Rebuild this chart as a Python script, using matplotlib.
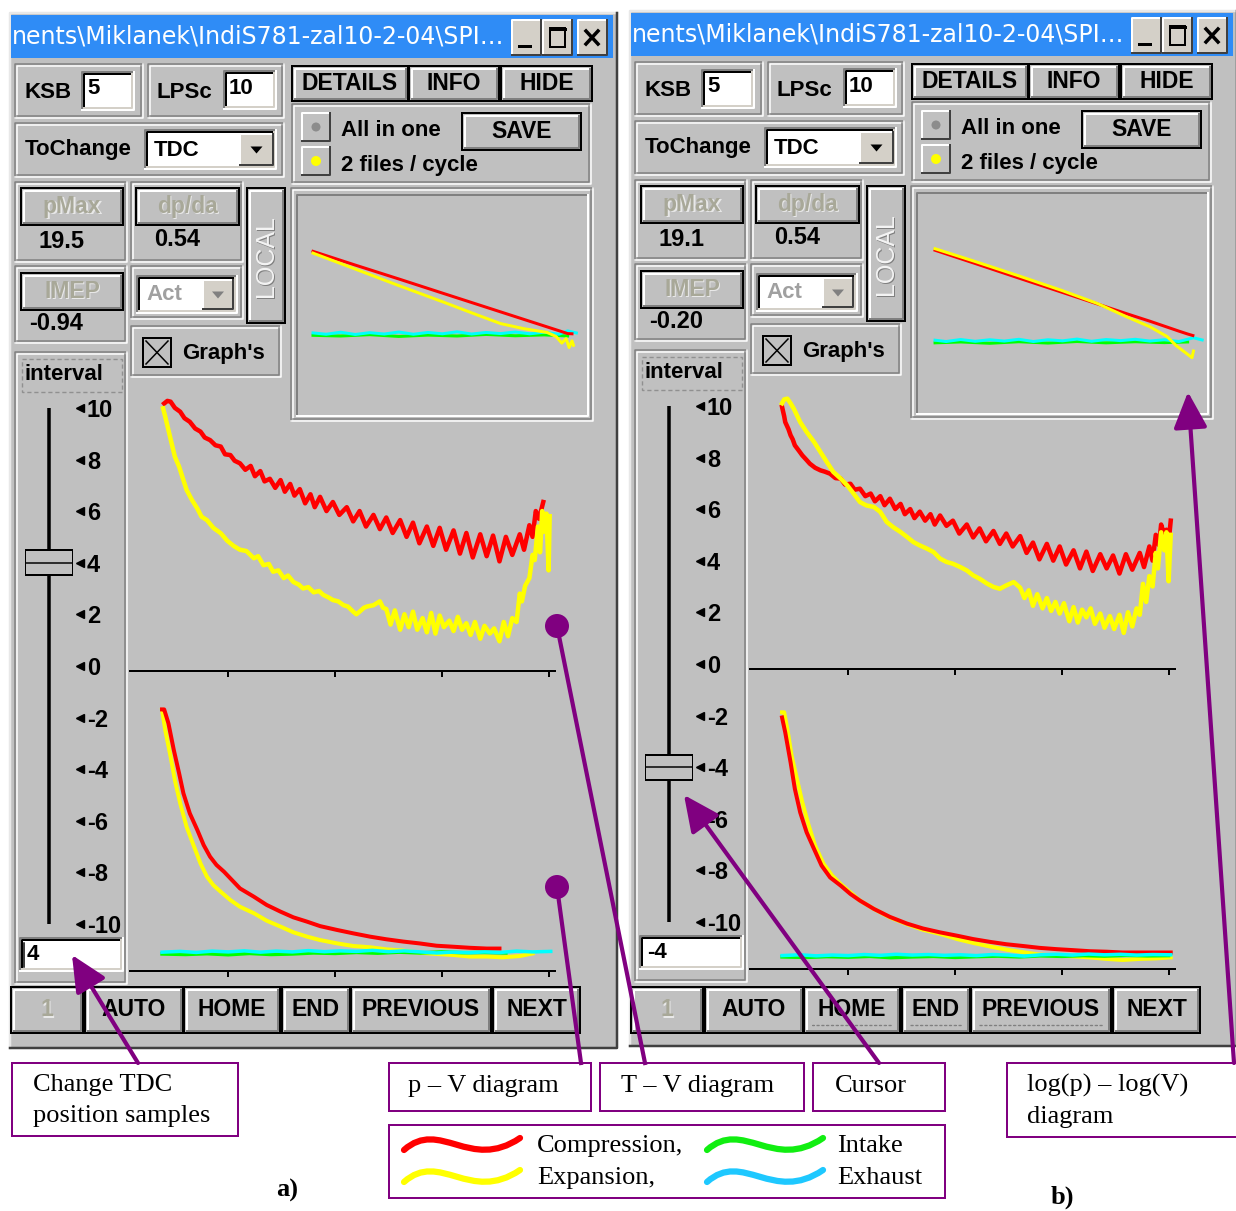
import numpy as np
import matplotlib
matplotlib.use("Agg")
import matplotlib.pyplot as plt
from matplotlib.patches import Rectangle, Circle, FancyArrowPatch, PathPatch, Polygon
from matplotlib.path import Path

W, H = 1236, 1211
FACE = "#c0c0c0"
TITLE_BLUE = "#2f8cf6"
PURPLE = "#800080"
GUI = ["Liberation Sans", "DejaVu Sans"]
SERIF = ["Liberation Serif", "DejaVu Serif"]
PX = 0.72  # points per pixel at dpi 100

# values shown in the two screenshots a) and b)
panel_labels = ["a)", "b)"]
ksb = ["5", "5"]
lpsc = ["10", "10"]
pmax = ["19.5", "19.1"]
dpda = ["0.54", "0.54"]
imep = ["-0.94", "-0.20"]
interval_value = [4, -4]
interval_text = ["4", "-4"]
slider_ticks = [10, 8, 6, 4, 2, 0, -2, -4, -6, -8, -10]
volume_ticks = [1, 2, 3, 4]
nav_buttons = ["1", "AUTO", "HOME", "END", "PREVIOUS", "NEXT"]
title_text = "nents\\Miklanek\\IndiS781-zal10-2-04\\SPI\u2026"

# T-V diagram (upper plot), (volume, value)
tv_a_comp = np.array([
    (0.40, 10.37), (0.43, 10.47), (0.46, 10.44), (0.50, 10.20), (0.55, 10.05), (0.59, 9.80),
    (0.64, 9.66), (0.69, 9.40), (0.74, 9.28), (0.78, 9.05), (0.83, 8.95), (0.88, 8.75),
    (0.93, 8.70), (0.97, 8.40), (1.02, 8.37), (1.06, 8.15), (1.11, 8.05), (1.16, 7.80),
    (1.21, 7.95), (1.25, 7.55), (1.30, 7.75), (1.34, 7.35), (1.39, 7.45), (1.44, 7.10),
    (1.49, 7.40), (1.53, 6.95), (1.58, 7.25), (1.62, 6.80), (1.67, 7.05), (1.72, 6.50),
    (1.77, 6.85), (1.81, 6.35), (1.86, 6.75), (1.92, 6.20), (1.98, 6.55), (2.04, 6.05),
    (2.11, 6.35), (2.17, 5.80), (2.23, 6.20), (2.29, 5.60), (2.36, 6.05), (2.42, 5.50),
    (2.48, 5.95), (2.54, 5.35), (2.61, 5.85), (2.67, 5.20), (2.73, 5.75), (2.79, 4.95),
    (2.86, 5.60), (2.92, 4.85), (2.98, 5.55), (3.04, 4.70), (3.11, 5.45), (3.17, 4.55),
    (3.23, 5.35), (3.29, 4.40), (3.36, 5.30), (3.42, 4.45), (3.48, 5.25), (3.54, 4.25),
    (3.60, 5.20), (3.66, 4.50), (3.73, 5.30), (3.77, 4.70), (3.82, 5.65), (3.85, 5.20),
    (3.88, 6.20), (3.91, 5.90), (3.95, 6.55),
])
tv_a_exp = np.array([
    (0.39, 10.18), (0.41, 9.86), (0.44, 9.34), (0.47, 8.82), (0.50, 8.31), (0.54, 7.92),
    (0.57, 7.53), (0.61, 7.02), (0.66, 6.63), (0.71, 6.30), (0.75, 5.98), (0.80, 5.85),
    (0.86, 5.55), (0.93, 5.34), (0.99, 5.05), (1.05, 4.85), (1.11, 4.70), (1.17, 4.65),
    (1.24, 4.37), (1.28, 4.45), (1.33, 4.10), (1.38, 4.15), (1.42, 3.85), (1.47, 3.90),
    (1.52, 3.60), (1.56, 3.70), (1.61, 3.45), (1.66, 3.35), (1.70, 3.20), (1.75, 3.25),
    (1.80, 3.05), (1.85, 3.10), (1.89, 2.95), (1.94, 2.85), (1.98, 2.75), (2.03, 2.70),
    (2.08, 2.55), (2.12, 2.50), (2.17, 2.30), (2.20, 2.20), (2.23, 2.30), (2.27, 2.45),
    (2.30, 2.50), (2.36, 2.55), (2.42, 2.70), (2.45, 2.45), (2.48, 2.40), (2.52, 1.80),
    (2.56, 2.35), (2.61, 1.60), (2.65, 2.20), (2.69, 1.70), (2.73, 2.30), (2.77, 1.60),
    (2.82, 2.05), (2.86, 1.50), (2.90, 2.25), (2.94, 1.45), (2.98, 2.15), (3.02, 1.70),
    (3.07, 1.95), (3.11, 1.55), (3.15, 2.10), (3.19, 1.60), (3.23, 1.85), (3.27, 1.40),
    (3.31, 1.90), (3.36, 1.25), (3.40, 1.75), (3.45, 1.45), (3.49, 1.65), (3.54, 1.15),
    (3.58, 1.90), (3.62, 1.35), (3.66, 2.05), (3.70, 1.90), (3.73, 3.00), (3.75, 2.70),
    (3.78, 3.30), (3.82, 3.60), (3.85, 4.50), (3.87, 4.30), (3.90, 5.60), (3.92, 4.60),
    (3.94, 6.20), (3.96, 5.40), (3.98, 6.10), (4.00, 3.90), (4.01, 6.00),
])
tv_b_comp = np.array([
    (0.38, 10.16), (0.40, 9.80), (0.41, 9.57), (0.44, 9.30), (0.46, 9.06), (0.48, 8.90),
    (0.50, 8.67), (0.54, 8.45), (0.57, 8.28), (0.61, 8.10), (0.64, 7.96), (0.69, 7.80),
    (0.74, 7.70), (0.78, 7.65), (0.83, 7.57), (0.88, 7.40), (0.93, 7.38), (0.97, 7.15),
    (1.02, 7.18), (1.06, 6.95), (1.11, 6.99), (1.16, 6.70), (1.21, 6.80), (1.25, 6.50),
    (1.30, 6.70), (1.34, 6.35), (1.39, 6.60), (1.44, 6.20), (1.49, 6.40), (1.53, 6.00),
    (1.58, 6.20), (1.62, 5.85), (1.67, 6.10), (1.72, 5.75), (1.77, 6.00), (1.81, 5.60),
    (1.86, 5.95), (1.92, 5.55), (1.98, 5.75), (2.04, 5.25), (2.11, 5.60), (2.17, 5.10),
    (2.23, 5.45), (2.29, 4.95), (2.36, 5.35), (2.42, 4.85), (2.48, 5.25), (2.54, 4.75),
    (2.61, 5.15), (2.67, 4.50), (2.73, 4.90), (2.79, 4.25), (2.86, 4.85), (2.92, 4.20),
    (2.98, 4.75), (3.04, 4.05), (3.11, 4.60), (3.17, 3.90), (3.23, 4.55), (3.29, 3.80),
    (3.36, 4.45), (3.42, 3.90), (3.48, 4.40), (3.54, 3.70), (3.60, 4.45), (3.66, 3.85),
    (3.73, 4.50), (3.77, 3.95), (3.82, 4.75), (3.85, 4.20), (3.88, 5.20), (3.91, 4.80),
    (3.93, 5.60), (3.96, 5.20), (3.98, 5.40), (4.00, 4.90), (4.02, 5.75),
])
tv_b_exp = np.array([
    (0.38, 10.30), (0.40, 10.45), (0.43, 10.48), (0.46, 10.30), (0.49, 10.09), (0.55, 9.57),
    (0.61, 9.19), (0.68, 8.80), (0.74, 8.41), (0.80, 8.02), (0.86, 7.64), (0.93, 7.38),
    (0.99, 7.12), (1.05, 6.80), (1.11, 6.47), (1.17, 6.34), (1.24, 6.28), (1.30, 6.09),
    (1.36, 5.70), (1.42, 5.50), (1.49, 5.31), (1.55, 5.12), (1.61, 4.92), (1.67, 4.79),
    (1.74, 4.66), (1.80, 4.53), (1.86, 4.28), (1.92, 4.15), (1.98, 4.08), (2.05, 3.95),
    (2.11, 3.82), (2.17, 3.63), (2.23, 3.50), (2.30, 3.31), (2.36, 3.18), (2.42, 3.11),
    (2.48, 3.24), (2.55, 3.37), (2.61, 3.15), (2.65, 2.75), (2.69, 3.05), (2.73, 2.45),
    (2.77, 2.90), (2.82, 2.35), (2.86, 2.75), (2.90, 2.25), (2.94, 2.60), (2.98, 2.15),
    (3.02, 2.55), (3.07, 1.85), (3.11, 2.40), (3.15, 1.80), (3.19, 2.30), (3.23, 2.00),
    (3.27, 2.35), (3.31, 1.75), (3.36, 2.15), (3.40, 1.60), (3.45, 2.05), (3.49, 1.55),
    (3.54, 2.10), (3.58, 1.40), (3.62, 2.20), (3.66, 1.65), (3.70, 2.35), (3.73, 2.10),
    (3.76, 3.30), (3.79, 2.60), (3.82, 3.60), (3.85, 3.20), (3.88, 4.50), (3.90, 3.90),
    (3.93, 5.30), (3.96, 4.60), (3.98, 5.30), (4.00, 3.40), (4.02, 5.20),
])

# p-V diagram (lower plot), (volume, value)
pv_a_comp = np.array([
    (0.38, 10.14), (0.40, 10.14), (0.44, 9.60), (0.49, 8.57), (0.54, 7.66), (0.58, 6.89),
    (0.64, 6.11), (0.71, 5.47), (0.77, 4.88), (0.83, 4.43), (0.89, 4.11), (0.96, 3.85),
    (1.02, 3.59), (1.11, 3.20), (1.24, 2.88), (1.36, 2.56), (1.49, 2.30), (1.61, 2.08),
    (1.74, 1.91), (1.86, 1.74), (2.02, 1.59), (2.17, 1.46), (2.33, 1.33), (2.48, 1.23),
    (2.64, 1.14), (2.79, 1.07), (2.95, 0.98), (3.11, 0.94), (3.26, 0.90), (3.42, 0.87),
    (3.54, 0.87),
])
pv_a_exp = np.array([
    (0.38, 10.12), (0.41, 9.34), (0.46, 8.31), (0.50, 7.40), (0.55, 6.50), (0.61, 5.59),
    (0.68, 4.82), (0.74, 4.17), (0.80, 3.66), (0.86, 3.33), (0.93, 3.07), (1.02, 2.75),
    (1.11, 2.49), (1.24, 2.24), (1.36, 1.95), (1.49, 1.72), (1.61, 1.50), (1.74, 1.33),
    (1.86, 1.20), (2.02, 1.07), (2.17, 0.97), (2.33, 0.92), (2.48, 0.84), (2.64, 0.79),
    (2.79, 0.71), (2.95, 0.66), (3.11, 0.62), (3.26, 0.56), (3.42, 0.56), (3.57, 0.53),
    (3.73, 0.58), (3.85, 0.68),
])
pv_a_intake = np.array([
    (0.38, 0.66), (0.60, 0.64), (0.80, 0.67), (1.00, 0.63), (1.20, 0.68), (1.40, 0.64),
    (1.60, 0.66), (1.80, 0.70), (2.00, 0.68), (2.20, 0.72), (2.40, 0.69), (2.60, 0.73),
    (2.80, 0.70), (3.00, 0.74), (3.20, 0.71), (3.40, 0.72), (3.60, 0.70),
])
pv_a_exhaust = np.array([
    (0.38, 0.73), (0.55, 0.76), (0.70, 0.72), (0.85, 0.77), (1.00, 0.74), (1.15, 0.78),
    (1.30, 0.73), (1.45, 0.77), (1.60, 0.74), (1.75, 0.79), (1.90, 0.75), (2.05, 0.78),
    (2.20, 0.76), (2.35, 0.80), (2.50, 0.75), (2.65, 0.78), (2.80, 0.74), (2.95, 0.70),
    (3.10, 0.73), (3.25, 0.71), (3.40, 0.74), (3.55, 0.72), (3.70, 0.77), (3.85, 0.74),
    (4.02, 0.76),
])
pv_b_comp = np.array([
    (0.38, 9.75), (0.41, 9.17), (0.46, 8.01), (0.50, 6.98), (0.55, 6.07), (0.61, 5.30),
    (0.68, 4.65), (0.75, 4.01), (0.83, 3.55), (0.93, 3.23), (1.02, 2.91), (1.11, 2.65),
    (1.24, 2.33), (1.39, 2.02), (1.55, 1.76), (1.70, 1.57), (1.86, 1.42), (2.02, 1.29),
    (2.17, 1.16), (2.33, 1.05), (2.48, 0.96), (2.64, 0.89), (2.79, 0.82), (2.95, 0.77),
    (3.11, 0.73), (3.26, 0.69), (3.42, 0.67), (3.57, 0.64), (3.73, 0.64), (3.88, 0.64),
    (4.02, 0.64),
])
pv_b_exp = np.array([
    (0.38, 9.95), (0.40, 9.95), (0.43, 9.30), (0.47, 8.27), (0.52, 7.36), (0.57, 6.46),
    (0.63, 5.56), (0.69, 4.78), (0.77, 4.07), (0.85, 3.62), (0.93, 3.29), (1.02, 2.97),
    (1.11, 2.65), (1.24, 2.33), (1.39, 2.00), (1.55, 1.74), (1.70, 1.52), (1.86, 1.36),
    (2.02, 1.16), (2.17, 1.01), (2.33, 0.87), (2.48, 0.75), (2.64, 0.65), (2.79, 0.56),
    (2.95, 0.52), (3.11, 0.49), (3.26, 0.45), (3.42, 0.39), (3.57, 0.35), (3.73, 0.39),
    (3.88, 0.41), (4.02, 0.45),
])
pv_b_intake = np.array([
    (0.38, 0.47), (0.60, 0.45), (0.80, 0.48), (1.00, 0.46), (1.20, 0.49), (1.40, 0.44),
    (1.60, 0.47), (1.80, 0.49), (2.00, 0.45), (2.20, 0.48), (2.40, 0.50), (2.60, 0.47),
    (2.80, 0.51), (3.00, 0.49), (3.20, 0.52), (3.40, 0.50), (3.60, 0.53), (3.80, 0.51),
    (4.00, 0.52),
])
pv_b_exhaust = np.array([
    (0.38, 0.52), (0.55, 0.55), (0.70, 0.51), (0.85, 0.54), (1.00, 0.52), (1.15, 0.56),
    (1.30, 0.53), (1.45, 0.57), (1.60, 0.54), (1.75, 0.56), (1.90, 0.53), (2.05, 0.55),
    (2.20, 0.52), (2.35, 0.56), (2.50, 0.54), (2.65, 0.50), (2.80, 0.55), (2.95, 0.57),
    (3.10, 0.54), (3.25, 0.58), (3.40, 0.55), (3.55, 0.57), (3.70, 0.54), (3.85, 0.56),
    (4.02, 0.55),
])

# log(p) - log(V) diagram, normalised frame coordinates
log_a_comp = np.array([
    (0.055, 0.745), (0.20, 0.683), (0.35, 0.620), (0.50, 0.556), (0.62, 0.505),
    (0.70, 0.471), (0.78, 0.437), (0.86, 0.403), (0.90, 0.386), (0.93, 0.373), (0.945, 0.372),
])
log_a_exp = np.array([
    (0.055, 0.737), (0.20, 0.665), (0.35, 0.590), (0.50, 0.517), (0.62, 0.457),
    (0.70, 0.418), (0.78, 0.395), (0.86, 0.378), (0.89, 0.360), (0.91, 0.330),
    (0.925, 0.350), (0.935, 0.310), (0.945, 0.340), (0.95, 0.320),
])
log_a_intake = np.array([
    (0.055, 0.365), (0.15, 0.362), (0.25, 0.368), (0.35, 0.360), (0.45, 0.366),
    (0.55, 0.362), (0.65, 0.369), (0.75, 0.363), (0.85, 0.367), (0.93, 0.362),
])
log_a_exhaust = np.array([
    (0.055, 0.376), (0.10, 0.370), (0.15, 0.379), (0.20, 0.369), (0.25, 0.377),
    (0.30, 0.371), (0.35, 0.380), (0.40, 0.370), (0.45, 0.378), (0.50, 0.372),
    (0.55, 0.381), (0.60, 0.371), (0.65, 0.378), (0.70, 0.373), (0.75, 0.380),
    (0.80, 0.372), (0.85, 0.379), (0.90, 0.370), (0.93, 0.385), (0.96, 0.376),
])
log_b_comp = np.array([
    (0.062, 0.741), (0.20, 0.681), (0.35, 0.615), (0.50, 0.550), (0.62, 0.498),
    (0.72, 0.454), (0.80, 0.420), (0.86, 0.393), (0.90, 0.375), (0.93, 0.362), (0.948, 0.355),
])
log_b_exp = np.array([
    (0.062, 0.748), (0.20, 0.690), (0.35, 0.625), (0.50, 0.558), (0.62, 0.500),
    (0.72, 0.440), (0.80, 0.395), (0.86, 0.350), (0.89, 0.310), (0.91, 0.290),
    (0.93, 0.270), (0.945, 0.255), (0.95, 0.285),
])
log_b_intake = np.array([
    (0.062, 0.322), (0.15, 0.326), (0.25, 0.320), (0.35, 0.327), (0.45, 0.321),
    (0.55, 0.328), (0.65, 0.322), (0.75, 0.327), (0.85, 0.323), (0.93, 0.326),
])
log_b_exhaust = np.array([
    (0.062, 0.334), (0.10, 0.328), (0.15, 0.337), (0.20, 0.329), (0.25, 0.336),
    (0.30, 0.330), (0.35, 0.338), (0.40, 0.328), (0.45, 0.336), (0.50, 0.331),
    (0.55, 0.339), (0.60, 0.329), (0.65, 0.337), (0.70, 0.332), (0.75, 0.338),
    (0.80, 0.330), (0.85, 0.336), (0.90, 0.328), (0.95, 0.345), (0.98, 0.335),
])

CURVES = [
    dict(tv=(tv_a_comp, tv_a_exp), pv=(pv_a_comp, pv_a_exp, pv_a_intake, pv_a_exhaust),
         log=(log_a_comp, log_a_exp, log_a_intake, log_a_exhaust)),
    dict(tv=(tv_b_comp, tv_b_exp), pv=(pv_b_comp, pv_b_exp, pv_b_intake, pv_b_exhaust),
         log=(log_b_comp, log_b_exp, log_b_intake, log_b_exhaust)),
]

legend_items = ["Compression,", "Expansion,", "Intake", "Exhaust"]
legend_colors = ["#ff0000", "#ffff00", "#11ee11", "#1ec8ff"]


def rect(ax, x, y, w, h, fc, ec="none", lw=0.0, z=1, **kw):
    ax.add_patch(Rectangle((x, y), w, h, fc=fc, ec=ec, lw=lw, zorder=z, **kw))


def seg(ax, xs, ys, color, px=2, z=3):
    ax.plot(xs, ys, color=color, lw=px * PX, solid_capstyle="projecting", zorder=z)


def bevel(ax, x, y, w, h, tl, br, px=2, z=3):
    seg(ax, [x, x, x + w], [y + h, y, y], tl, px, z)
    seg(ax, [x, x + w, x + w], [y + h, y + h, y], br, px, z)


def label(ax, x, y, s, size=16, color="black", ha="left", weight="bold", z=6, **kw):
    ax.text(x, y, s, fontsize=size, color=color, ha=ha, va="center", family=GUI,
            fontweight=weight, zorder=z, **kw)


def group(ax, x, y, w, h, z=1):
    rect(ax, x, y, w, h, FACE, z=z)
    bevel(ax, x, y, w, h, "#808080", "white", 1.5, z + 0.1)
    bevel(ax, x + 2, y + 2, w - 4, h - 4, "white", "#808080", 1.5, z + 0.1)


def button(ax, x, y, w, h, text="", color="black", size=16.5, z=3):
    rect(ax, x, y, w, h, FACE, z=z)
    bevel(ax, x + 2.5, y + 2.5, w - 5, h - 5, "white", "#808080", 2, z + 0.1)
    ax.add_patch(Rectangle((x, y), w, h, fc="none", ec="black", lw=2 * PX, zorder=z + 0.2))
    if text:
        if color != "black":
            label(ax, x + w / 2 + 1.2, y + h / 2 + 1.2, text, size, "#e8e8e8", "center")
        label(ax, x + w / 2, y + h / 2, text, size, color, "center", z=6.1)


def field(ax, x, y, w, h, fc="white", z=3):
    rect(ax, x, y, w, h, fc, z=z)
    bevel(ax, x, y, w, h, "#808080", "white", 2, z + 0.1)
    bevel(ax, x + 2, y + 2, w - 4, h - 4, "black", "#d4d0c8", 2, z + 0.1)


def raised(ax, x, y, w, h, fc=FACE, z=4):
    rect(ax, x, y, w, h, fc, z=z)
    bevel(ax, x, y, w, h, "white", "#404040", 2, z + 0.1)


def dropdown(ax, x, y, w, h, color):
    raised(ax, x, y, w, h, "#d4d0c8", 4)
    cx, cy = x + w / 2, y + h / 2
    ax.add_patch(Polygon([(cx - 6, cy - 3), (cx + 6, cy - 3), (cx, cy + 4)],
                         closed=True, fc=color, ec="none", zorder=5))


def px_axes(fig, x0, y0, x1, y1):
    a = fig.add_axes([x0 / W, 1 - y1 / H, (x1 - x0) / W, (y1 - y0) / H])
    a.set_facecolor("none")
    return a


def curve_axes(fig, x0, y0, x1, y1):
    a = px_axes(fig, x0, y0, x1, y1)
    a.set_xlim(0.08, 4.06)
    a.set_ylim(0, 11.28)
    for s in ("top", "left", "right"):
        a.spines[s].set_visible(False)
    a.spines["bottom"].set_linewidth(2 * PX)
    a.set_xticks(volume_ticks)
    a.set_yticks([])
    a.tick_params(axis="x", direction="out", length=4, width=2 * PX, labelbottom=False)
    return a


def slider(fig, dx, dy, value):
    a = px_axes(fig, 25 + dx, 408 + dy, 73 + dx, 924 + dy)
    a.set_xlim(0, 1)
    a.set_ylim(-10, 10)
    for s in a.spines.values():
        s.set_visible(False)
    a.set_xticks([])
    a.axvline(0.5, color="black", lw=3.5 * PX, zorder=1)
    a.yaxis.tick_right()
    a.set_yticks(slider_ticks)
    a.set_yticklabels([str(t) for t in slider_ticks], family=GUI,
                      fontweight="bold", fontsize=17)
    a.tick_params(axis="y", length=0, pad=10)
    a.plot(np.full(len(slider_ticks), 1.15), slider_ticks, ls="none", marker="<",
           ms=5.5, color="black", clip_on=False)
    a.add_patch(Rectangle((0, value - 0.48), 1, 0.96, fc=FACE, ec="black",
                          lw=2 * PX, zorder=3))
    a.plot([0, 1], [value, value], color="black", lw=1.5 * PX, zorder=4)


def draw_panel(fig, ax, i, dx, dy):
    def X(x):
        return x + dx

    def Y(y):
        return y + dy

    # window body and title bar
    rect(ax, X(10), Y(13), 607, 1035, FACE, z=0.5)
    bevel(ax, X(10), Y(13), 607, 1035, "#e8e8e8", "#404040", 2.5, 0.6)
    rect(ax, X(11), Y(15), 602, 43, TITLE_BLUE, z=1)
    ax.text(X(12), Y(37), title_text, color="white", fontsize=17, family=["DejaVu Sans"],
            va="center", ha="left", zorder=2)
    for bx in (512, 543, 578):
        raised(ax, X(bx), Y(20), 29, 35, "#d4d0c8", 3)
    seg(ax, [X(519), X(530)], [Y(46), Y(46)], "black", 3, 4)
    rect(ax, X(550), Y(28), 15, 19, "none", ec="black", lw=2 * PX, z=4)
    seg(ax, [X(550), X(565)], [Y(29), Y(29)], "black", 3, 4)
    seg(ax, [X(586), X(598)], [Y(31), Y(44)], "black", 3.5, 4)
    seg(ax, [X(598), X(586)], [Y(31), Y(44)], "black", 3.5, 4)

    # KSB / LPSc
    group(ax, X(15), Y(64), 128, 54)
    label(ax, X(25), Y(93), "KSB")
    field(ax, X(82), Y(72), 52, 38)
    label(ax, X(87), Y(89), ksb[i])
    group(ax, X(148), Y(64), 136, 54)
    label(ax, X(157), Y(92), "LPSc")
    field(ax, X(224), Y(71), 52, 38)
    label(ax, X(229), Y(88), lpsc[i])

    # top buttons
    button(ax, X(292), Y(66), 116, 35, "DETAILS")
    button(ax, X(409), Y(66), 90, 35, "INFO")
    button(ax, X(501), Y(66), 91, 35, "HIDE")

    # radio group
    group(ax, X(292), Y(104), 299, 80)
    raised(ax, X(302), Y(113), 28, 28)
    raised(ax, X(302), Y(147), 28, 28)
    ax.add_patch(Circle((X(316), Y(127)), 4.5, fc="#8c8c8c", ec="none", zorder=6))
    ax.add_patch(Circle((X(316), Y(161)), 5, fc="#ffff00", ec="none", zorder=6))
    label(ax, X(341), Y(131), "All in one")
    label(ax, X(341), Y(165), "2 files / cycle")
    button(ax, X(462), Y(113), 119, 37, "SAVE")

    # ToChange
    group(ax, X(15), Y(123), 269, 54)
    label(ax, X(25), Y(150), "ToChange")
    field(ax, X(145), Y(130), 131, 39)
    label(ax, X(154), Y(150), "TDC")
    dropdown(ax, X(240), Y(134), 33, 31, "black")

    # pMax, dp/da, IMEP, Act, LOCAL, Graph's
    disabled = "#a8a898"
    group(ax, X(15), Y(182), 112, 80)
    button(ax, X(21), Y(188), 102, 37, "pMax", disabled)
    label(ax, X(38), Y(241), pmax[i], 17)
    group(ax, X(131), Y(182), 112, 80)
    button(ax, X(136), Y(188), 103, 37, "dp/da", disabled)
    label(ax, X(154), Y(240), dpda[i], 17)
    button(ax, X(247), Y(188), 38, 135)
    label(ax, X(267.5), Y(257.5), "LOCAL", 18, "#808080", "center", "normal", rotation=90)
    label(ax, X(266), Y(256), "LOCAL", 18, "#f4f4f4", "center", "normal", z=6.2, rotation=90)
    group(ax, X(15), Y(266), 112, 77)
    button(ax, X(21), Y(273), 102, 37, "IMEP", disabled)
    label(ax, X(29), Y(324), imep[i], 17)
    group(ax, X(131), Y(266), 112, 53)
    field(ax, X(137), Y(276), 100, 37)
    label(ax, X(146), Y(294), "Act", 16, "#a0a0a0")
    dropdown(ax, X(203), Y(280), 30, 29, "#808080")
    group(ax, X(131), Y(326), 150, 51)
    rect(ax, X(143), Y(338), 28, 29, FACE, ec="black", lw=2 * PX, z=4)
    seg(ax, [X(146), X(168)], [Y(341), Y(364)], "black", 1.5, 5)
    seg(ax, [X(168), X(146)], [Y(341), Y(364)], "black", 1.5, 5)
    label(ax, X(182), Y(353), "Graph's")

    # log frame
    group(ax, X(291), Y(188), 302, 233)
    bevel(ax, X(297), Y(195), 291, 221, "#808080", "white", 2, 1.2)

    # interval group, slider and entry
    group(ax, X(15), Y(352), 112, 632)
    rect(ax, X(22), Y(359), 100, 33, "none", ec="#909090", lw=1.4 * PX, z=2, ls=(0, (3, 2)))
    label(ax, X(25), Y(375), "interval")
    slider(fig, dx, dy, interval_value[i])
    field(ax, X(20), Y(938), 103, 33)
    label(ax, X(27), Y(955), interval_text[i])
    if i == 0:
        seg(ax, [X(24), X(24)], [Y(943), Y(967)], "black", 1.5, 6)

    # navigation buttons
    nav_x = [(11, 72), (85, 98), (184, 96), (282, 68), (351, 140), (493, 87)]
    for name, (bx, bw) in zip(nav_buttons, nav_x):
        button(ax, X(bx), 987, bw, 46, name, disabled if name == "1" else "black")
        if i == 1 and name in ("HOME", "END", "PREVIOUS"):
            rect(ax, X(bx + 8), 1025, bw - 16, 0.1, "none", ec="#808080", lw=1.2 * PX,
                 z=6, ls=(0, (2, 2)))

    # plots
    cv = CURVES[i]
    up = curve_axes(fig, X(130), Y(380), X(555), Y(671))
    comp, exp_ = cv["tv"]
    up.plot(comp[:, 0], comp[:, 1], color="#ff0000", lw=4.5 * PX, clip_on=False)
    up.plot(exp_[:, 0], exp_[:, 1], color="#ffff00", lw=4.5 * PX, clip_on=False)

    lo = curve_axes(fig, X(130), Y(680), X(555), Y(971))
    comp, exp_, intake, exhaust = cv["pv"]
    lo.plot(exp_[:, 0], exp_[:, 1], color="#ffff00", lw=4 * PX, clip_on=False)
    lo.plot(comp[:, 0], comp[:, 1], color="#ff0000", lw=4 * PX, clip_on=False)
    lo.plot(intake[:, 0], intake[:, 1], color="#00ff00", lw=3.5 * PX, clip_on=False)
    lo.plot(exhaust[:, 0], exhaust[:, 1], color="#00ffff", lw=3.5 * PX, clip_on=False)

    lg = px_axes(fig, X(297), Y(195), X(588), Y(416))
    lg.set_xlim(0, 1)
    lg.set_ylim(0, 1)
    lg.axis("off")
    comp, exp_, intake, exhaust = cv["log"]
    lg.plot(intake[:, 0], intake[:, 1], color="#00ff00", lw=3 * PX)
    lg.plot(exhaust[:, 0], exhaust[:, 1], color="#00ffff", lw=3 * PX)
    lg.plot(comp[:, 0], comp[:, 1], color="#ff0000", lw=3 * PX)
    lg.plot(exp_[:, 0], exp_[:, 1], color="#ffff00", lw=3 * PX)


def arrow(ax, start, end):
    ax.add_patch(FancyArrowPatch(start, end, arrowstyle="-|>,head_length=0.85,head_width=0.4",
                                 mutation_scale=26, color=PURPLE, lw=3, zorder=20,
                                 shrinkA=0, shrinkB=0))


def wave(ax, x0, y0, color):
    verts = [(x0, y0), (x0 + 36, y0 - 32), (x0 + 66, y0 + 22), (x0 + 116, y0 - 12)]
    codes = [Path.MOVETO, Path.CURVE4, Path.CURVE4, Path.CURVE4]
    ax.add_patch(PathPatch(Path(verts, codes), fc="none", ec=color, lw=4.5,
                           capstyle="round", zorder=20))


def main():
    fig = plt.figure(figsize=(W / 100, H / 100), dpi=100)
    fig.patch.set_facecolor("white")
    ax = fig.add_axes([0, 0, 1, 1])
    ax.set_xlim(0, W)
    ax.set_ylim(H, 0)
    ax.axis("off")

    draw_panel(fig, ax, 0, 0, 0)
    draw_panel(fig, ax, 1, 620, -2)

    top = fig.add_axes([0, 0, 1, 1])
    top.set_xlim(0, W)
    top.set_ylim(H, 0)
    top.axis("off")
    top.set_facecolor("none")

    # annotation boxes
    for x, y, w, h, text, tx in [
        (12, 1063, 226, 73, "Change TDC\nposition samples", 33),
        (389, 1063, 202, 48, "p \u2013 V diagram", 408),
        (600, 1063, 204, 48, "T \u2013 V diagram", 621),
        (813, 1063, 132, 48, "Cursor", 835),
        (1007, 1063, 240, 74, "log(p) \u2013 log(V)\ndiagram", 1027),
    ]:
        rect(top, x, y, w, h, "white", ec=PURPLE, lw=2 * PX, z=18)
        if "\n" in text:
            top.text(tx, y + 11, text, fontsize=19, family=SERIF, va="top", ha="left",
                     linespacing=1.55, zorder=19)
        else:
            top.text(tx, y + 23, text, fontsize=19, family=SERIF, va="center", ha="left",
                     zorder=19)

    # legend box
    rect(top, 389, 1125, 556, 73, "white", ec=PURPLE, lw=2 * PX, z=18)
    for k, (name, color) in enumerate(zip(legend_items, legend_colors)):
        col, row = k // 2, k % 2
        wave(top, 404 + 303 * col, 1150 + 32 * row, color)
        top.text(537 + 300 * col, 1146 + 32 * row, name, fontsize=19, family=SERIF,
                 va="center", ha="left", zorder=21)

    # pointers
    arrow(top, (138, 1063), (72, 955))
    arrow(top, (879, 1063), (684, 795))
    arrow(top, (1234, 1063), (1188, 392))
    for start, dot in [((581, 1063), (557, 887)), ((645, 1063), (557, 626))]:
        top.plot([start[0], dot[0]], [start[1], dot[1]], color=PURPLE, lw=3, zorder=20)
        top.add_patch(Circle(dot, 12, fc=PURPLE, ec="none", zorder=21))

    for (x, y), s in zip([(287, 1190), (1062, 1197)], panel_labels):
        top.text(x, y, s, fontsize=19, family=SERIF, fontweight="bold", ha="center",
                 va="center", zorder=21)

    fig.savefig("out.png", dpi=100, facecolor="white")
    plt.close(fig)


if __name__ == "__main__":
    main()
